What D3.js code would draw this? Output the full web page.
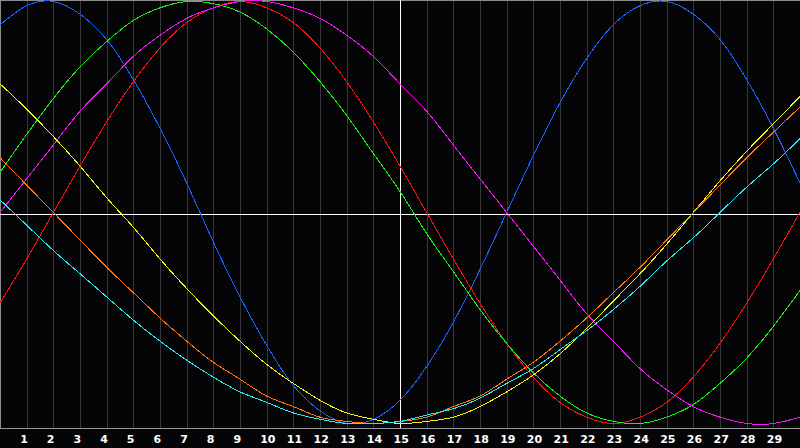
<!DOCTYPE html>
<html>
<head>
<meta charset="utf-8">
<script src="https://cdn.jsdelivr.net/npm/d3@7/dist/d3.min.js"></script>
<style>
  html, body { margin: 0; padding: 0; background: #050508; overflow: hidden; }
  #chart-container { width: 800px; height: 448px; }
</style>
</head>
<body>
<div id="chart-container"></div>
<script>
// days shown on the chart (0 = left edge, 30 = right edge)
const days = [0,1,2,3,4,5,6,7,8,9,10,11,12,13,14,15,16,17,18,19,20,21,22,23,24,25,26,27,28,29,30];
const dayLabels = [1,2,3,4,5,6,7,8,9,10,11,12,13,14,15,16,17,18,19,20,21,22,23,24,25,26,27,28,29];
const todayLabel = 15;

// cycle values in percent
const physical = [89,98,100,94,82,63,40,14,-14,-40,-63,-82,-94,-100,-98,-89,-73,-52,-27,0,27,52,73,89,98,100,94,82,63,40,14];
const emotional = [-43,-22,0,22,43,62,78,90,97,100,97,90,78,62,43,22,0,-22,-43,-62,-78,-90,-97,-100,-97,-90,-78,-62,-43,-22,0];
const intellectual = [19,37,54,69,81,91,97,100,99,95,87,76,62,46,28,10,-10,-28,-46,-62,-76,-87,-95,-99,-100,-97,-91,-81,-69,-54,-37];
const intuitive = [0,16,32,48,61,74,84,92,97,100,100,97,92,84,74,61,48,32,16,0,-16,-32,-48,-61,-74,-84,-92,-97,-100,-100,-97];
const aesthetic = [61,49,36,22,7,-7,-22,-36,-49,-61,-72,-81,-89,-95,-98,-100,-99,-97,-92,-85,-77,-67,-55,-42,-29,-15,0,15,29,42,55];
const awareness = [26,13,0,-13,-26,-38,-50,-61,-71,-79,-87,-92,-97,-99,-100,-99,-97,-92,-87,-79,-71,-61,-50,-38,-26,-13,0,13,26,38,50];
const spiritual = [6,-6,-18,-29,-40,-51,-61,-70,-78,-85,-90,-95,-98,-100,-100,-99,-96,-93,-88,-81,-74,-65,-56,-46,-35,-23,-12,0,12,23,35];

const seriesNames = ["physical","emotional","intellectual","intuitive","aesthetic","awareness","spiritual"];

chart = {
  "scale": {
    "x": d3.scaleLinear(),
    "y": d3.scaleLinear(),
  },
  "colors": {
    "physical": "#1662ff",
    "emotional": "#ff1010",
    "intellectual": "#14f014",
    "intuitive": "#f514f5",
    "aesthetic": "#f5f510",
    "awareness": "#ff7410",
    "spiritual": "#24ecec"
  },
  "width": 800,
  "height": 448,
  "plotHeight": 428
}

function drawChart(){
  let series = {
    "physical": physical, "emotional": emotional, "intellectual": intellectual,
    "intuitive": intuitive, "aesthetic": aesthetic, "awareness": awareness, "spiritual": spiritual
  };

  chart.scale.x.domain([0, 30]).range([0, chart.width]);
  chart.scale.y.domain([-100, 100]).range([chart.plotHeight - 4.5, 1.5]);

  let svg = d3.select("#chart-container").append("svg")
    .attr("id", "chart-svg")
    .attr("width", chart.width)
    .attr("height", chart.height)
    .style("display", "block");

  svg.append("rect")
    .attr("width", chart.width)
    .attr("height", chart.height)
    .attr("fill", "#050508");

  svg.append("clipPath").attr("id", "plot-clip")
    .append("rect")
    .attr("width", chart.width)
    .attr("height", chart.plotHeight);

  // day grid
  svg.append("g").attr("id", "grid")
    .selectAll(".grid-line")
    .data(dayLabels.filter(d => d != todayLabel))
    .enter()
    .append("line")
    .attr("class", "grid-line")
    .attr("x1", d => Math.round(chart.scale.x(d)) + 0.5)
    .attr("x2", d => Math.round(chart.scale.x(d)) + 0.5)
    .attr("y1", 0)
    .attr("y2", chart.plotHeight)
    .attr("stroke", "#38383b")
    .attr("stroke-width", 1);

  // frame
  let frame = svg.append("g").attr("id", "frame");
  frame.append("line").attr("x1", 0.5).attr("x2", 0.5).attr("y1", 0).attr("y2", chart.plotHeight)
    .attr("stroke", "#8c8c8c");
  frame.append("line").attr("x1", 0).attr("x2", chart.width).attr("y1", 0.5).attr("y2", 0.5)
    .attr("stroke", "#8c8c8c");
  frame.append("line").attr("x1", 0).attr("x2", chart.width).attr("y1", chart.plotHeight + 0.5).attr("y2", chart.plotHeight + 0.5)
    .attr("stroke", "#9a9a9a");

  // zero line and today marker
  frame.append("line")
    .attr("x1", 0).attr("x2", chart.width)
    .attr("y1", chart.plotHeight / 2 + 0.5).attr("y2", chart.plotHeight / 2 + 0.5)
    .attr("stroke", "#ffffff");
  frame.append("line")
    .attr("x1", Math.round(chart.scale.x(todayLabel)) + 0.5).attr("x2", Math.round(chart.scale.x(todayLabel)) + 0.5)
    .attr("y1", 0).attr("y2", chart.plotHeight)
    .attr("stroke", "#ffffff");

  let line = d3.line()
    .x((v, i) => chart.scale.x(days[i]))
    .y(v => chart.scale.y(v))
    .curve(d3.curveNatural);

  svg.append("g").attr("id", "curves")
    .attr("clip-path", "url(#plot-clip)")
    .selectAll(".curve")
    .data(seriesNames)
    .enter()
    .append("path")
    .attr("class", name => "curve curve-" + name)
    .attr("d", name => line(series[name]))
    .attr("fill", "none")
    .attr("stroke", name => chart.colors[name])
    .attr("stroke-width", 1)
    .style("shape-rendering", "crispEdges");

  svg.append("g").attr("id", "day-labels")
    .selectAll(".day-label")
    .data(dayLabels)
    .enter()
    .append("text")
    .attr("class", "day-label")
    .attr("x", d => chart.scale.x(d) - 6.5)
    .attr("y", 443)
    .attr("fill", "#ffffff")
    .style("font-family", "'DejaVu Sans', sans-serif")
    .style("font-weight", "bold")
    .style("font-size", "11px")
    .text(d => d);
}

drawChart();
</script>
</body>
</html>
